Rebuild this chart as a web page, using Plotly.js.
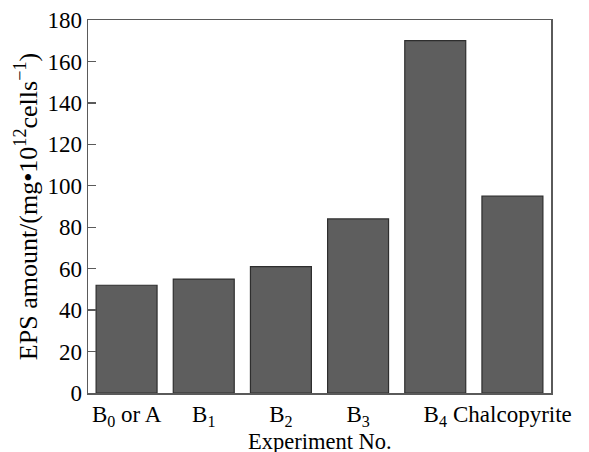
<!DOCTYPE html>
<html><head><meta charset="utf-8">
<script src="https://cdn.plot.ly/plotly-3.0.1.min.js"></script>
<style>html,body{margin:0;padding:0;background:#fff}#c{width:589px;height:452px}</style>
</head><body><div id="c"></div>
<script>
const categories = ["B<sub>0</sub> or A", "B<sub>1</sub>", "B<sub>2</sub>", "B<sub>3</sub>", "B<sub>4</sub>", "Chalcopyrite"];
const epsValues = [52, 55, 61, 84, 170, 95];
const yTicks = [0, 20, 40, 60, 80, 100, 120, 140, 160, 180];
const xTitle = "Experiment No.";
const yTitle = "EPS amount/(mg•10<sup>12</sup>cells<sup>−1</sup>)";

const fam = "Liberation Serif, Times New Roman, serif";
const font = {family: fam, size: 23, color: "#000"};
Plotly.newPlot("c", [{
  type: "bar", x: categories, y: epsValues,
  marker: {color: "#5e5e5e", line: {color: "#2e2e2e", width: 1.2}},
  hoverinfo: "none"
}], {
  width: 589, height: 452,
  margin: {l: 88, r: 38, t: 20, b: 59},
  paper_bgcolor: "#fff", plot_bgcolor: "#fff",
  bargap: 0.21,
  font: font,
  showlegend: false,
  xaxis: {
    type: "category", showline: true, mirror: true, linecolor: "#5a5a5a", linewidth: 1.5,
    ticks: "", showgrid: false, tickfont: font
  },
  yaxis: {
    range: [0, 180], tickvals: yTicks, showline: true, mirror: true, linecolor: "#5a5a5a", linewidth: 1.5,
    ticks: "inside", ticklen: 8, tickcolor: "#5a5a5a", tickwidth: 1.3, showgrid: false, zeroline: false,
    tickfont: font, ticklabelstandoff: 0,
    title: {text: yTitle, font: {family: fam, size: 26, color: "#000"}, standoff: 2}
  },
  annotations: [{
    text: xTitle, xref: "paper", yref: "paper", x: 0.5, y: -0.17,
    xanchor: "center", yanchor: "bottom", showarrow: false, borderpad: 1,
    font: {family: fam, size: 22.5, color: "#000"}
  }]
}, {staticPlot: true});
</script></body></html>
